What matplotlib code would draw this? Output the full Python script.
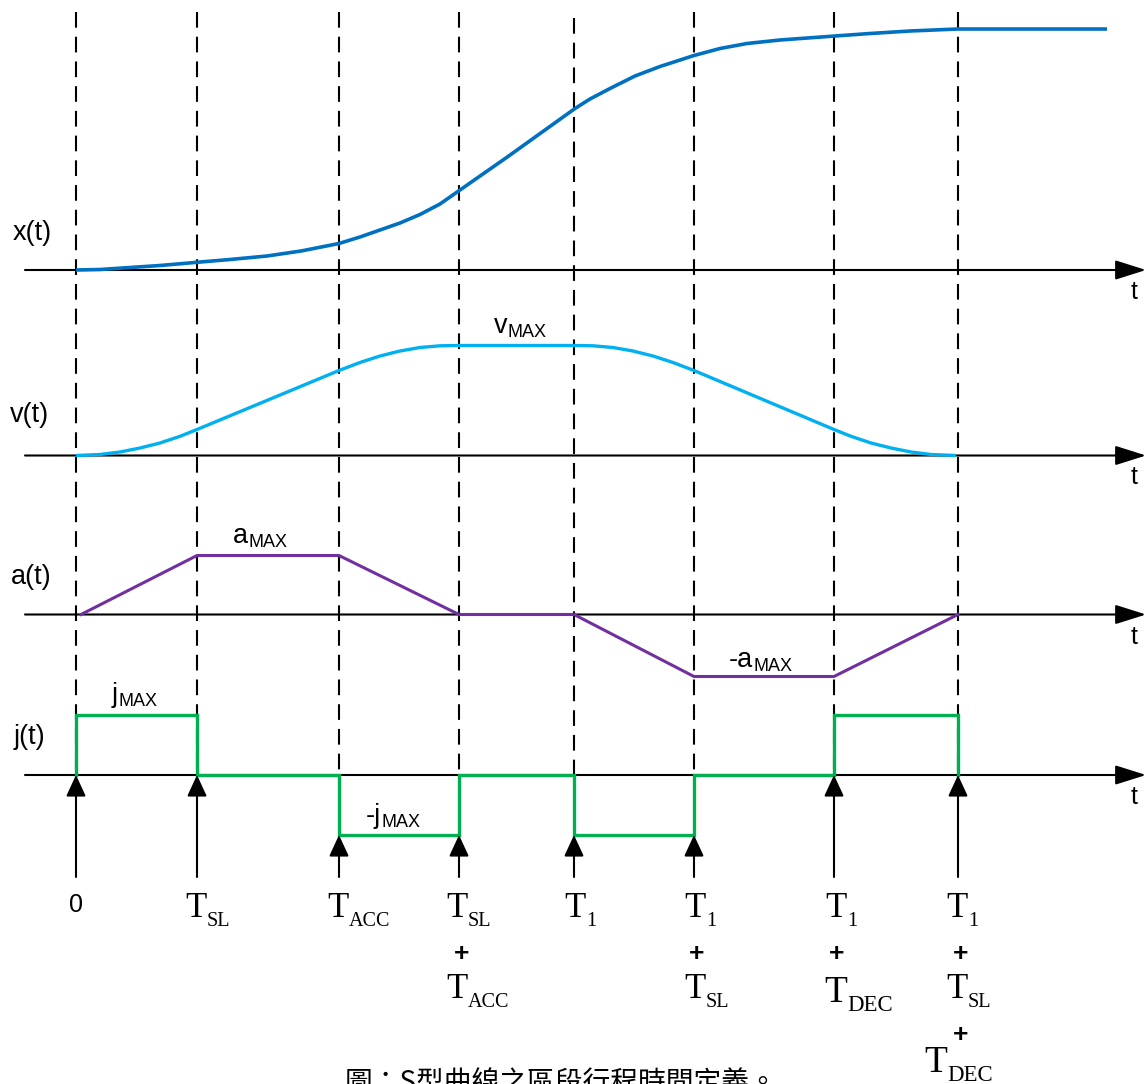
import numpy as np
import matplotlib
matplotlib.use("Agg")
import matplotlib.pyplot as plt

plt.rcParams['font.family'] = ['Liberation Sans', 'DejaVu Sans']
plt.rcParams['lines.scale_dashes'] = False

# ---------------- data ----------------
# event instants along the time axis
event_t = [76, 197, 339, 459, 574, 694, 834, 958]

# x(t): sampled heights above its time axis (axis at 270)
x_t = [76, 100, 130, 160, 197, 230, 267, 301, 339, 360, 380, 400, 420, 440, 460,
       508, 575, 590, 610, 635, 660, 694, 720, 747, 780, 835, 870, 910, 958, 1107]
x_y = [270, 269.5, 267.5, 265.5, 262.3, 259.5, 256, 251, 243.5, 237, 230, 223,
       214.5, 204, 190, 156.5, 108.5, 99, 88.5, 76, 66.5, 55.5, 48.5, 43.5, 40,
       36, 33.5, 31, 29, 29]

# v(t): sampled heights (axis at 455.5)
v_t = [76, 100, 120, 140, 160, 180, 197, 339, 360, 380, 400, 420, 440, 459,
       574, 593, 613, 633, 653, 673, 694, 834, 851, 871, 891, 911, 931, 956]
v_y = [455.5, 454.5, 452, 448, 443, 436.3, 429.5, 370.5, 362.5, 356, 351, 347.5,
       345.8, 345.5, 345.5, 345.8, 347.5, 351, 356, 362.5, 370.5, 429.5, 436.3,
       443, 448, 452, 454.5, 455.5]

# a(t): values at the event instants (relative to its axis)
a_t = [81, 197, 339, 459, 574, 694, 834, 958]
a_v = [0, 59, 59, 0, 0, -62, -62, 0]

# j(t): constant level between consecutive events
j_levels = [60, 0, -60, 0, -60, 0, 60]

# labels
signal_labels = ['x(t)', 'v(t)', 'a(t)', 'j(t)']
event_labels = [
    [('0', None)],
    [('T', 'SL')],
    [('T', 'ACC')],
    [('T', 'SL'), '+', ('T', 'ACC')],
    [('T', '1')],
    [('T', '1'), '+', ('T', 'SL')],
    [('T', '1'), '+', ('T', 'DEC')],
    [('T', '1'), '+', ('T', 'SL'), '+', ('T', 'DEC')],
]
caption = '圖：S型曲線之區段行程時間定義。'

# ---------------- layout ----------------
W, H = 1146, 1084
fig = plt.figure(figsize=(W / 100, H / 100), dpi=100)
ax = fig.add_axes([0, 0, 1, 1])
ax.set_xlim(0, W)
ax.set_ylim(H, 0)
ax.axis('off')

X_BASE, V_BASE, A_BASE, J_BASE = 270, 455.5, 614.5, 775
bases = [X_BASE, V_BASE, A_BASE, J_BASE]
label_pos = [(32, 233), (29, 415), (31, 577), (29, 737)]

C_X, C_V, C_A, C_J = '#0070C0', '#00B0F0', '#7030A0', '#00B050'
SERIF = ['Liberation Serif', 'DejaVu Serif']
SANS = ['Liberation Sans', 'DejaVu Sans']

# dashed event lines
for i, t in enumerate(event_t):
    top = 18 if i == 4 else 12
    ax.plot([t, t], [top, J_BASE], color='black', lw=1.5,
            linestyle=(0, (11.3, 6.5)), zorder=1)

# time axes with arrowheads
for b in bases:
    ax.annotate('', xy=(1146, b), xytext=(25, b),
                arrowprops=dict(arrowstyle='-|>,head_length=1.9,head_width=0.6',
                                mutation_scale=10, lw=1.5, color='black',
                                shrinkA=0, shrinkB=0), zorder=2)
    ax.text(1134, b + 22, 't', fontsize=18, ha='center', va='center', family=SANS)

for (lx, ly), s in zip(label_pos, signal_labels):
    ax.text(lx, ly, s, fontsize=19.5, ha='center', va='center', family=SANS)

# curves
ax.plot(x_t, x_y, color=C_X, lw=2.6, zorder=3, solid_capstyle='butt',
        solid_joinstyle='round')
ax.plot(v_t, v_y, color=C_V, lw=2.4, zorder=3, solid_capstyle='butt',
        solid_joinstyle='round')
ax.plot(a_t, A_BASE - np.array(a_v), color=C_A, lw=2.2, zorder=3)

jx, jy = [event_t[0]], [0]
for k, lvl in enumerate(j_levels):
    jx += [event_t[k], event_t[k + 1]]
    jy += [lvl, lvl]
jx.append(event_t[-1]); jy.append(0)
ax.plot(jx, J_BASE - np.array(jy), color=C_J, lw=2.4, zorder=3,
        solid_joinstyle='miter')

# upward arrows at each event
for k, t in enumerate(event_t):
    neigh = []
    if k > 0:
        neigh.append(j_levels[k - 1])
    if k < len(j_levels):
        neigh.append(j_levels[k])
    tip = J_BASE + max(0, -min(neigh))
    ax.annotate('', xy=(t, tip), xytext=(t, 877),
                arrowprops=dict(arrowstyle='-|>,head_length=1.3,head_width=0.6',
                                mutation_scale=10, lw=1.5, color='black',
                                shrinkA=0, shrinkB=0), zorder=4)


def sub_label(x, yb, main, sub, msize, ssize, dy, family):
    t = ax.text(x, yb, main, fontsize=msize, ha='left', va='baseline', family=family)
    ax.annotate(sub, xy=(1, yb + dy), xycoords=(t, 'data'), fontsize=ssize,
                ha='left', va='baseline', family=family)


# value annotations
sub_label(494, 333, 'v', 'MAX', 19.5, 13, 4, SANS)
sub_label(233, 543, 'a', 'MAX', 19.5, 13, 4, SANS)
sub_label(729, 667, '-a', 'MAX', 19.5, 13, 4, SANS)
sub_label(112, 702, 'j', 'MAX', 19.5, 13, 4, SANS)
sub_label(366, 823, '-j', 'MAX', 19.5, 13, 4, SANS)

# event labels below arrows
t_left = [None, 185.5, 327.5, 446.5, 564.5, 684.5, 825.5, 946.5]
plus_y = [954, 1035]
for k, (t, parts) in enumerate(zip(event_t, event_labels)):
    row = 0
    for p in parts:
        if p == '+':
            ax.text(t + 3, plus_y[row - 1], '+', fontsize=19, fontweight='bold',
                    ha='center', va='center', family=SANS)
            continue
        main, sub = p
        if sub is None:
            ax.text(t, 905, main, fontsize=18, ha='center', va='center', family=SANS)
        else:
            big = (sub == 'DEC')
            x0 = t_left[k]
            if big:
                x0 = t - 10 if k == 6 else t - 34
            yb = [917, 1002 if big else 998, 1072][row]
            sub_label(x0, yb, main, sub, 27 if big else 25, 16.5 if big else 14.5,
                      9 if big else 9, SERIF)
        row += 1

ax.text(561, 1091, caption, fontsize=20, ha='center', va='baseline',
        family=['Noto Sans CJK TC', 'DejaVu Sans'])

fig.savefig('out.png', dpi=100)
